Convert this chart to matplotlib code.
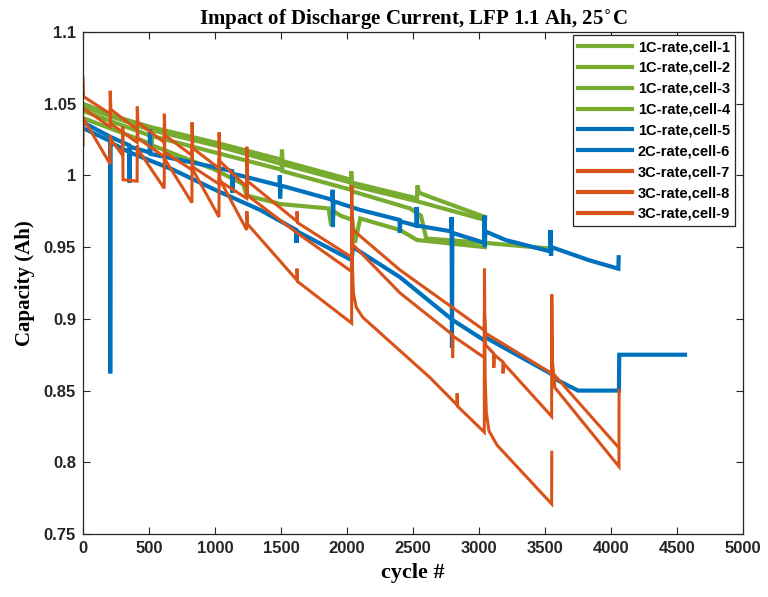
import matplotlib
matplotlib.use("Agg")
import matplotlib.pyplot as plt

# ---- capacity traces (cycle number, capacity in Ah) ----
cell1_cycles = [0, 250, 500, 1000, 1505, 1507, 1512, 2030, 2032, 2037, 2530, 2533, 2545, 2629, 3045]
cell1_cap = [1.050, 1.041, 1.034, 1.023, 1.011, 1.018, 1.010, 0.997, 1.003, 0.995, 0.984, 0.993, 0.988, 0.985, 0.971]

cell2_cycles = [0, 500, 1000, 1505, 1507, 1512, 2030, 2032, 2037, 2477, 2560, 2600, 3045, 3540]
cell2_cap = [1.045, 1.028, 1.016, 1.004, 1.010, 1.003, 0.990, 0.996, 0.989, 0.977, 0.972, 0.956, 0.953, 0.949]

cell3_cycles = [0, 515, 517, 522, 1000, 1212, 1240, 1500, 1860, 1880, 1900, 1950, 2040, 2060, 2100, 2400, 2530, 3045]
cell3_cap = [1.040, 1.022, 1.032, 1.021, 1.004, 0.994, 0.986, 0.980, 0.977, 0.965, 0.975, 0.972, 0.969, 0.953, 0.970, 0.962, 0.955, 0.950]

cell4_cycles = [0, 500, 1000, 1505, 2030, 2037, 2530, 3045]
cell4_cap = [1.048, 1.032, 1.021, 1.008, 0.995, 0.993, 0.982, 0.969]

cell5_cycles = [0, 205, 350, 352, 356, 505, 507, 512, 985, 1130, 1132, 1136, 1190, 1490, 1491, 1493, 1497,
                1890, 1891, 1893, 1898, 2098, 2398, 2400, 2404, 2525, 2527, 2532, 2790, 2792, 2795, 2798,
                3040, 3042, 3044, 3048, 3200, 3540, 3542, 3545, 3550, 3830, 4055, 4058]
cell5_cap = [1.037, 1.027, 1.021, 0.995, 1.020, 1.016, 1.032, 1.015, 1.006, 1.003, 0.988, 1.001, 1.000, 0.993, 1.000, 0.984, 0.993,
             0.983, 0.990, 0.964, 0.982, 0.976, 0.969, 0.960, 0.968, 0.965, 0.978, 0.965, 0.961, 0.971, 0.880, 0.960,
             0.953, 0.972, 0.950, 0.961, 0.955, 0.947, 0.962, 0.944, 0.950, 0.941, 0.935, 0.943]

cell6_cycles = [0, 205, 206, 208, 356, 682, 1000, 1341, 1615, 1617, 1621, 2035, 2045, 2402, 2803, 3040, 3050,
                3540, 3600, 3750, 4060, 4062, 4560]
cell6_cap = [1.033, 1.024, 0.862, 1.023, 1.016, 1.004, 0.990, 0.976, 0.962, 0.953, 0.961, 0.941, 0.950, 0.929, 0.899, 0.885, 0.887,
             0.862, 0.857, 0.850, 0.850, 0.875, 0.875]

cell7_cycles = [0, 4, 205, 206, 211, 410, 411, 416, 615, 616, 621, 825, 826, 831, 1030, 1031, 1036, 1240, 1241, 1247,
                1620, 1621, 1626, 2035, 2036, 2045, 2402, 3040, 3041, 3050, 3550, 3551, 3560, 4060]
cell7_cap = [1.068, 1.055, 1.043, 1.059, 1.046, 1.032, 1.048, 1.037, 1.023, 1.043, 1.028, 1.014, 1.037, 1.019, 1.005, 1.030, 1.010, 0.992, 1.020, 0.996,
             0.968, 0.975, 0.967, 0.943, 0.960, 0.962, 0.934, 0.892, 0.905, 0.890, 0.862, 0.875, 0.862, 0.810]

cell8_cycles = [0, 205, 206, 211, 410, 411, 416, 615, 616, 621, 825, 826, 831, 1030, 1031, 1036, 1240, 1241, 1247,
                1620, 2035, 2036, 2042, 2402, 2798, 2800, 2803, 3040, 3041, 3048, 3110, 3112, 3116, 3180, 3182, 3186,
                3550, 3551, 3556, 3575, 4060, 4061]
cell8_cap = [1.047, 1.034, 1.045, 1.036, 1.023, 1.036, 1.026, 1.013, 1.028, 1.016, 1.004, 1.022, 1.006, 0.994, 1.012, 0.996, 0.984, 0.998, 0.986,
             0.960, 0.933, 0.975, 0.952, 0.918, 0.889, 0.873, 0.888, 0.873, 0.900, 0.882, 0.876, 0.866, 0.875, 0.870, 0.862, 0.869,
             0.832, 0.917, 0.870, 0.852, 0.797, 0.850]

cell9_cycles = [0, 1, 205, 206, 212, 300, 301, 303, 410, 411, 417, 615, 616, 622, 825, 826, 832, 1030, 1031, 1037,
                1240, 1241, 1247, 1620, 1621, 1626, 2035, 2036, 2040, 2048, 2070, 2120, 2629, 2833, 2834, 2838,
                3040, 3041, 3046, 3055, 3075, 3136, 3550, 3551]
cell9_cap = [1.021, 1.040, 1.008, 1.028, 1.025, 1.014, 1.034, 0.997, 0.996, 1.021, 1.018, 0.991, 1.013, 1.011, 0.981, 1.006, 1.004, 0.971, 0.999, 0.997,
             0.962, 0.975, 0.966, 0.927, 0.935, 0.926, 0.897, 0.993, 0.940, 0.918, 0.908, 0.901, 0.859, 0.840, 0.848, 0.839,
             0.821, 0.935, 0.860, 0.835, 0.822, 0.812, 0.771, 0.807]

labels = ["1C-rate,cell-1", "1C-rate,cell-2", "1C-rate,cell-3", "1C-rate,cell-4", "1C-rate,cell-5",
          "2C-rate,cell-6", "3C-rate,cell-7", "3C-rate,cell-8", "3C-rate,cell-9"]

GREEN = "#77AC30"
BLUE = "#0072BD"
ORANGE = "#D95319"

series = [
    (cell1_cycles, cell1_cap, GREEN, 3.0),
    (cell2_cycles, cell2_cap, GREEN, 3.0),
    (cell3_cycles, cell3_cap, GREEN, 3.0),
    (cell4_cycles, cell4_cap, GREEN, 3.0),
    (cell5_cycles, cell5_cap, BLUE, 3.0),
    (cell6_cycles, cell6_cap, BLUE, 3.0),
    (cell7_cycles, cell7_cap, ORANGE, 2.2),
    (cell8_cycles, cell8_cap, ORANGE, 2.2),
    (cell9_cycles, cell9_cap, ORANGE, 2.2),
]

fig = plt.figure(figsize=(7.68, 5.97), dpi=100)
ax = fig.add_axes([0.1081, 0.1055, 0.8594, 0.8409])

for (cx, cy, col, lw), lab in zip(series, labels):
    ax.plot(cx, cy, color=col, lw=lw, label=lab, solid_joinstyle="miter")

ax.set_xlim(0, 5000)
ax.set_ylim(0.75, 1.1)
ax.set_xticks([0, 500, 1000, 1500, 2000, 2500, 3000, 3500, 4000, 4500, 5000])
ax.set_yticks([0.75, 0.8, 0.85, 0.9, 0.95, 1.0, 1.05, 1.1])
ax.set_yticklabels(["0.75", "0.8", "0.85", "0.9", "0.95", "1", "1.05", "1.1"])

ax.tick_params(direction="in", top=True, right=True, length=5, width=0.8, colors="#262626",
               labelsize=12, pad=5)
for lbl in ax.get_xticklabels() + ax.get_yticklabels():
    lbl.set_fontfamily("Liberation Sans")
    lbl.set_fontweight("bold")
    lbl.set_color("#262626")
for sp in ax.spines.values():
    sp.set_color("#262626")
    sp.set_linewidth(0.9)

serif = "Liberation Serif"
ax.set_title(r"Impact of Discharge Current, LFP 1.1 Ah, 25$^{\circ}$C", fontfamily=serif,
             fontweight="bold", fontsize=15, pad=5)
ax.set_xlabel("cycle #", fontfamily=serif, fontweight="bold", fontsize=16, labelpad=5)
ax.set_ylabel("Capacity (Ah)", fontfamily=serif, fontweight="bold", fontsize=15, labelpad=6)

leg = ax.legend(loc="upper right", bbox_to_anchor=(0.988, 0.994), borderaxespad=0.0,
                fancybox=False, framealpha=1, edgecolor="#262626", handlelength=3.7,
                labelspacing=0.47, borderpad=0.35, handletextpad=0.4,
                prop={"family": "Liberation Sans", "weight": "bold", "size": 10.5})
leg.get_frame().set_linewidth(0.9)
for line in leg.get_lines():
    line.set_linewidth(3.0)

fig.savefig("out.png", dpi=100, facecolor="white")
